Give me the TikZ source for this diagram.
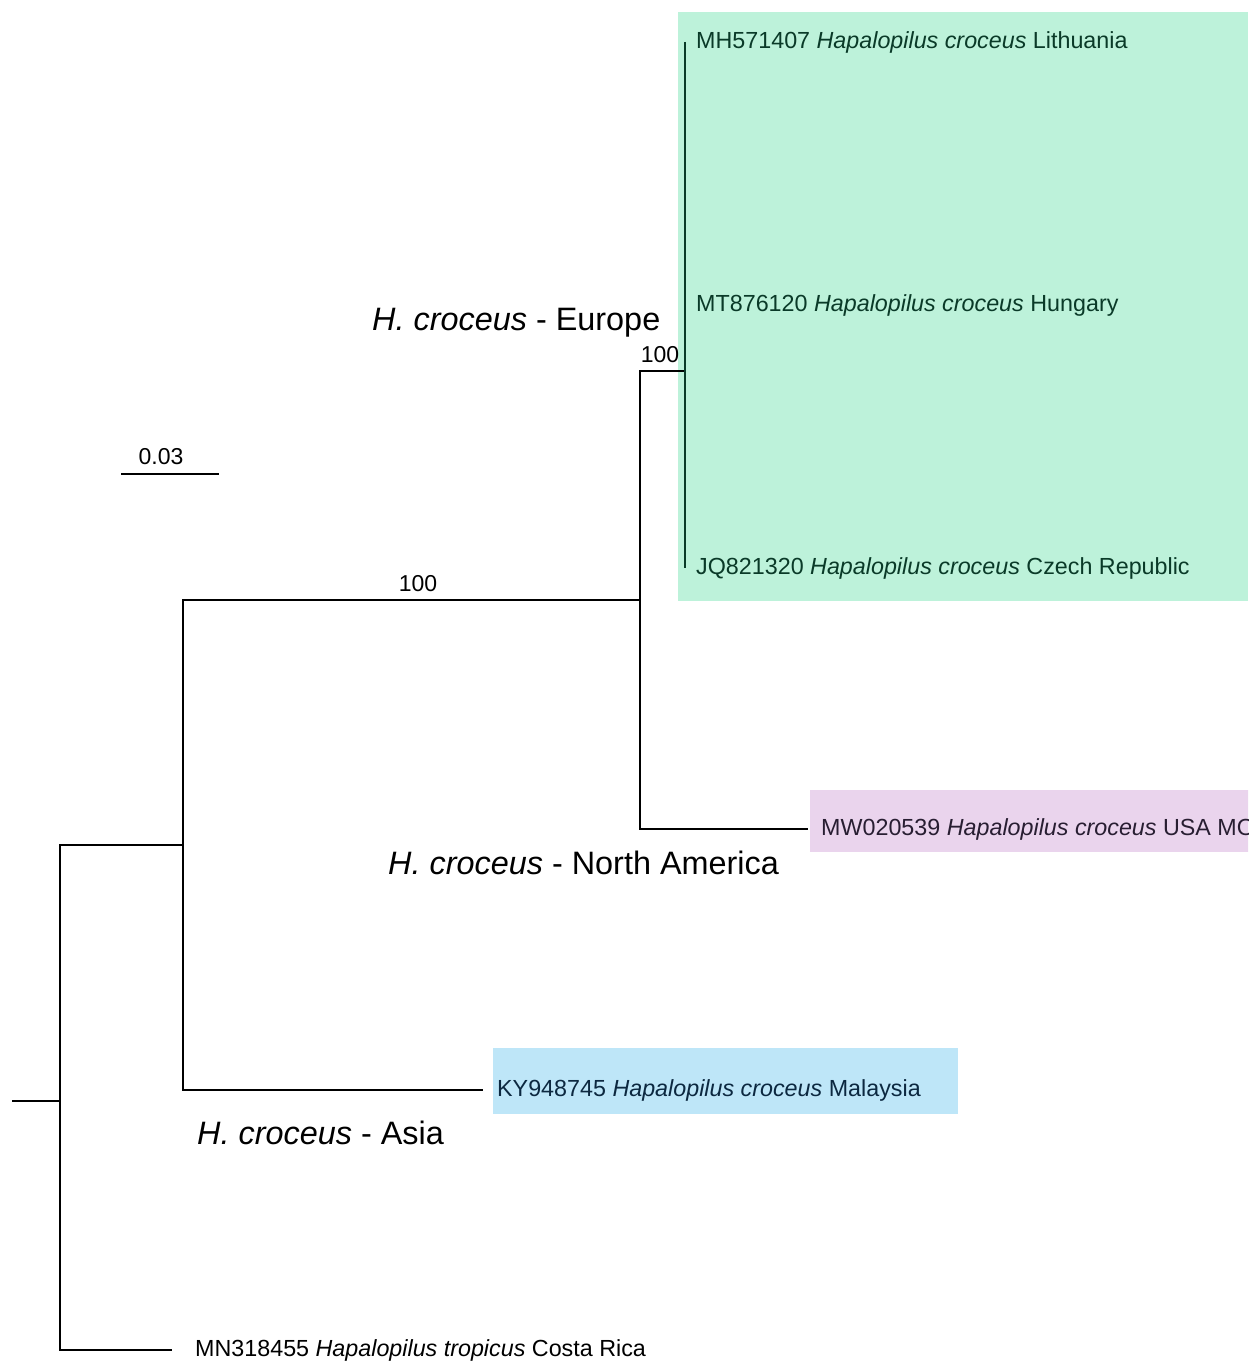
\documentclass[tikz,border=0pt]{standalone}
\usepackage{fontspec}
\setmainfont{Liberation Sans}
\usetikzlibrary{positioning}

\definecolor{europebg}{RGB}{189,242,218}
\definecolor{americabg}{RGB}{234,212,237}
\definecolor{asiabg}{RGB}{190,230,248}
\definecolor{europetxt}{RGB}{10,58,40}
\definecolor{asiatxt}{RGB}{12,40,64}
\definecolor{americatxt}{RGB}{40,30,50}

\begin{document}
\begin{tikzpicture}[
          x=1pt, y=-1pt,
          branch/.style={line width=2.2pt},
          tip/.style={inner sep=0pt, font=\fontsize{23.3}{28}\selectfont},
          clade/.style={anchor=base west, inner sep=0pt, font=\fontsize{32.4}{38}\selectfont},
          support/.style={anchor=base, inner sep=0pt, font=\fontsize{23}{28}\selectfont}
        ]
          \useasboundingbox (0,0) rectangle (1248,1362);
          \clip (0,0) rectangle (1248,1362);

          % clade shading
          \fill[europebg] (678,12) rectangle (1248,601);
          \fill[americabg] (810,790) rectangle (1260,852);
          \fill[asiabg] (493,1048) rectangle (958,1114);

          % internal nodes
          \coordinate (stub) at (12,1101);
          \coordinate (root) at (60,1101);
          \coordinate (ingroup) at (183,845);
          \coordinate (holarctic) at (640,600);
          \coordinate (europe) at (685,371);

          % branch ends
          \coordinate (tropEnd) at (172,1350);
          \coordinate (asiaEnd) at (483,1090);
          \coordinate (usaEnd) at (808,829);
          \coordinate (eu1) at (685,42);
          \coordinate (eu2) at (685,305);
          \coordinate (eu3) at (685,568);

          % tree
          \draw[branch] (stub) -- (root);
          \draw[branch] (ingroup) -| (root) |- (tropEnd);
          \draw[branch] (holarctic) -| (ingroup) |- (asiaEnd);
          \draw[branch] (ingroup |- holarctic) -- (holarctic);
          \draw[branch] (europe) -| (holarctic) |- (usaEnd);
          \draw[branch, europetxt] (eu1) -- (eu3);

          % tips
          \node[tip, right=11pt of eu1, text=europetxt] (lith) {MH571407 \textit{Hapalopilus croceus} Lithuania};
          \node[tip, right=11pt of eu2, text=europetxt] (hung) {MT876120 \textit{Hapalopilus croceus} Hungary};
          \node[tip, right=11pt of eu3, text=europetxt] (czech) {JQ821320 \textit{Hapalopilus croceus} Czech Republic};
          \node[tip, right=13pt of usaEnd, text=americatxt] (usa) {MW020539 \textit{Hapalopilus croceus} USA MO};
          \node[tip, right=14pt of asiaEnd, text=asiatxt] (malay) {KY948745 \textit{Hapalopilus croceus} Malaysia};
          \node[tip, right=23pt of tropEnd] (costa) {MN318455 \textit{Hapalopilus tropicus} Costa Rica};

          % support values
          \node[support] (bsEurope) at (660,362) {100};
          \node[support] (bsHolarctic) at (418,591) {100};

          % clade names
          \node[clade] (labEurope) at (372,330) {\textit{H. croceus} - Europe};
          \node[clade] (labAmerica) at (388,874) {\textit{H. croceus} - North America};
          \node[clade] (labAsia) at (197,1144) {\textit{H. croceus} - Asia};

          % scale bar
          \coordinate (scaleL) at (121,474);
          \coordinate (scaleR) at (219,474);
          \draw[line width=1.5pt] (scaleL) -- (scaleR);
          \node[support] (scaleLab) at (161,464) {0.03};
        \end{tikzpicture}
\end{document}
